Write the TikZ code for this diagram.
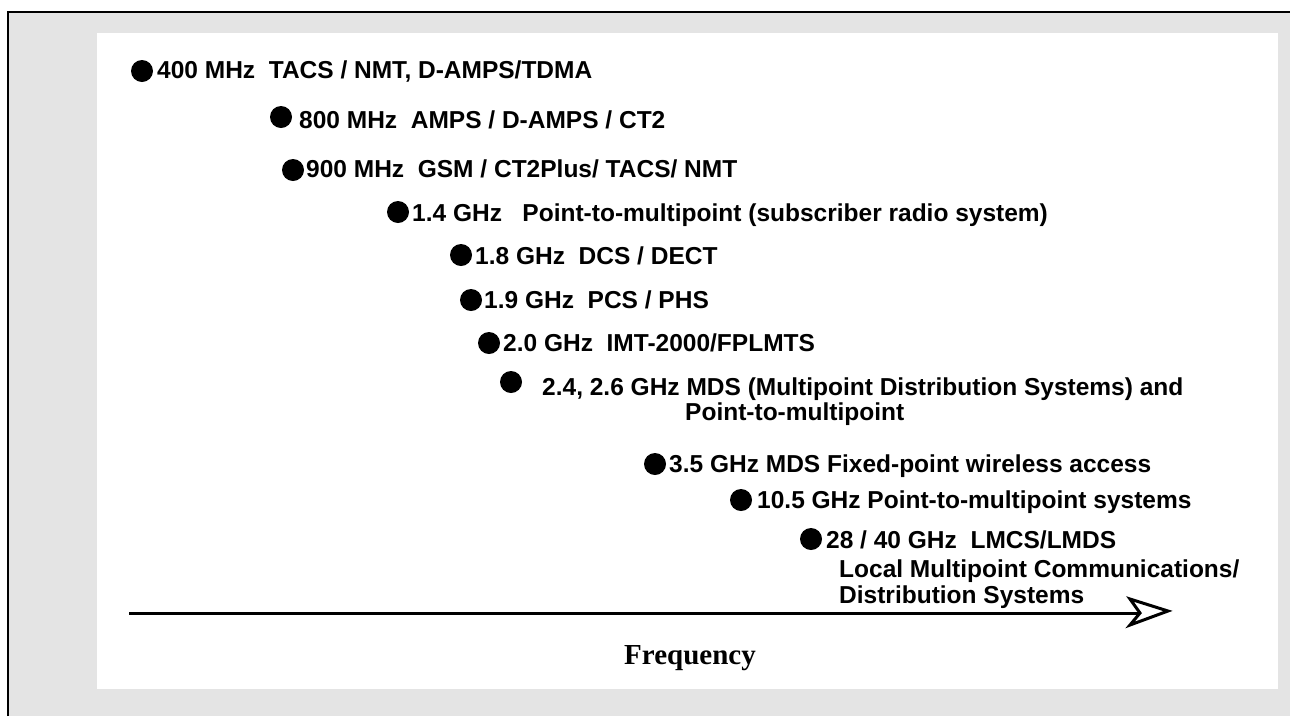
\documentclass[tikz,border=0pt]{standalone}
\usepackage{fontspec}
\setmainfont{Liberation Sans}
\newfontfamily\serifbold{Liberation Serif}
\definecolor{framegray}{HTML}{E4E4E4}
\begin{document}
\begin{tikzpicture}[x=1pt,y=-1pt,
  item/.style={anchor=base west, inner sep=0pt, font=\fontsize{24.5}{28}\selectfont\bfseries},
  dot/.style={circle, fill=black, minimum size=22pt, inner sep=0pt},
  axisline/.style={line width=3pt},
  headline/.style={line width=3pt, line join=miter, fill=white},
]
\useasboundingbox (0,0) rectangle (1290,716);
\fill[framegray] (8,12) rectangle (1290,716);
\draw[line width=2pt] (8,716) -- (8,12) -- (1290,12);
\fill[white] (97,33) rectangle (1278,689);

\node[dot] (b1) at (142,71) {};
\node[item] (t1) at (157,78) {400 MHz\ \ TACS / NMT, D-AMPS/TDMA};
\node[dot] (b2) at (281,117) {};
\node[item] (t2) at (299,128) {800 MHz\ \ AMPS / D-AMPS / CT2};
\node[dot] (b3) at (293,170) {};
\node[item] (t3) at (306,177) {900 MHz\ \ GSM / CT2Plus/ TACS/ NMT};
\node[dot] (b4) at (398,212) {};
\node[item] (t4) at (412,221) {1.4 GHz\ \ \ Point-to-multipoint (subscriber radio system)};
\node[dot] (b5) at (461,255) {};
\node[item] (t5) at (475,264) {1.8 GHz\ \ DCS / DECT};
\node[dot] (b6) at (471,300) {};
\node[item] (t6) at (484,308) {1.9 GHz\ \ PCS / PHS};
\node[dot] (b7) at (489,343) {};
\node[item] (t7) at (503,351) {2.0 GHz\ \ IMT-2000/FPLMTS};
\node[dot] (b8) at (511,382) {};
\node[item] (t8) at (542,395) {2.4, 2.6 GHz MDS (Multipoint Distribution Systems) and};
\node[item] (t8b) at (685,420) {Point-to-multipoint};
\node[dot] (b9) at (655,464) {};
\node[item] (t9) at (669,472) {3.5 GHz MDS Fixed-point wireless access};
\node[dot] (b10) at (741,500) {};
\node[item] (t10) at (757,508) {10.5 GHz Point-to-multipoint systems};
\node[dot] (b11) at (811,539) {};
\node[item] (t11) at (826,548) {28 / 40 GHz\ \ LMCS/LMDS};
\node[item] (t11b) at (839,577) {Local Multipoint Communications/};
\node[item] (t11c) at (839,603) {Distribution Systems};

\coordinate (axstart) at (129,613);
\coordinate (notch) at (1140,613);
\coordinate (headtop) at (1130,599);
\coordinate (tip) at (1168,611);
\coordinate (headbot) at (1130,625);
\draw[axisline] (axstart) -- (notch);
\draw[headline] (notch) -- (headtop) -- (tip) -- (headbot) -- cycle;
\node[anchor=base, inner sep=0pt, font=\serifbold\bfseries\fontsize{29}{33}\selectfont] (freq) at (690,664) {Frequency};
\end{tikzpicture}
\end{document}
